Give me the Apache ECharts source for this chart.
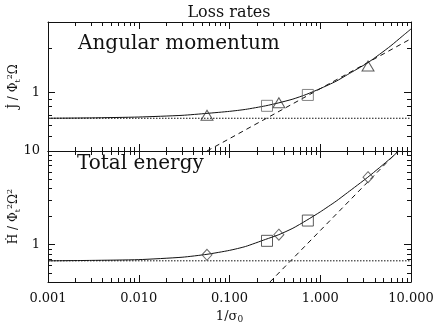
<!DOCTYPE html>
<html>
<head>
<meta charset="utf-8">
<script src="https://cdn.jsdelivr.net/npm/echarts@6/dist/echarts.min.js"></script>
<style>
    html, body { margin: 0; padding: 0; background: #fff; }
    #chart { width: 436px; height: 323px; }
</style>
</head>
<body>
<div id="chart"></div>
<script>
// angular momentum panel
var jCurveX = [0.001, 0.003, 0.01, 0.03, 0.0565, 0.1, 0.15, 0.25, 0.35, 0.5, 0.7, 1, 1.5, 2, 3.3, 4.5, 6, 8, 10];
var jCurveY = [0.667, 0.671, 0.68, 0.698, 0.72, 0.743, 0.766, 0.81, 0.849, 0.9, 0.967, 1.06, 1.19, 1.32, 1.58, 1.81, 2.07, 2.40, 2.69];
var jDashX = [0.0565, 10];
var jDashY = [0.4, 2.31];
var jFloor = 0.667;
var jTriX = [0.0565, 0.35, 3.36];
var jTriY = [0.70, 0.85, 1.51];
var jSqX = [0.259, 0.73];
var jSqY = [0.81, 0.96];

// total energy panel
var hCurveX = [0.001, 0.003, 0.01, 0.03, 0.0565, 0.1, 0.15, 0.25, 0.35, 0.5, 0.7, 1, 1.5, 2, 3.3, 4.5, 6, 7.4];
var hCurveY = [0.673, 0.68, 0.693, 0.735, 0.79, 0.87, 0.957, 1.14, 1.28, 1.5, 1.81, 2.24, 2.92, 3.6, 5.2, 6.65, 8.4, 10.1];
var hDashX = [0.279, 7.2];
var hDashY = [0.4, 10];
var hFloor = 0.673;
var hDiaX = [0.0565, 0.35, 3.36];
var hDiaY = [0.78, 1.28, 5.26];
var hSqX = [0.259, 0.73];
var hSqY = [1.10, 1.81];

var xRange = [0.001, 10];
var jRange = [0.4, 3];
var hRange = [0.4, 10];

function pairs(xs, ys) {
    var out = [];
    for (var i = 0; i < xs.length; i++) {
        out.push([xs[i], ys[i]]);
    }
    return out;
}

var FONT = "DejaVu Serif";
var INK = "#111";

function xAxisOf(grid, pos, labels) {
    return {
        type: "log", logBase: 10, gridIndex: grid, position: pos,
        min: xRange[0], max: xRange[1],
        axisLine: { show: true, onZero: false, lineStyle: { color: INK, width: 1 } },
        axisTick: { show: true, inside: true, length: 7, lineStyle: { color: INK } },
        minorTick: { show: true, splitNumber: 9, length: 4, lineStyle: { color: INK } },
        splitLine: { show: false },
        axisLabel: {
            show: labels, color: INK, fontFamily: FONT, fontSize: 13, margin: 10,
            showMinLabel: true, showMaxLabel: true,
            formatter: function (v) { return Number(v).toFixed(3); }
        }
    };
}

function yAxisOf(grid, pos, range, labels, name) {
    var ax = {
        type: "log", logBase: 10, gridIndex: grid, position: pos,
        min: range[0], max: range[1],
        axisLine: { show: true, onZero: false, lineStyle: { color: INK, width: 1 } },
        axisTick: { show: true, inside: true, length: 7, lineStyle: { color: INK } },
        minorTick: { show: true, splitNumber: 9, length: 4, lineStyle: { color: INK } },
        splitLine: { show: false },
        axisLabel: {
            show: labels, color: INK, fontFamily: FONT, fontSize: 13, margin: 8,
            showMinLabel: true, showMaxLabel: true,
            formatter: function (v) {
                var l = Math.log(v) / Math.LN10;
                if (Math.abs(l - Math.round(l)) < 1e-6) return String(Math.round(v));
                return "";
            }
        }
    };
    if (name) {
        ax.name = name;
        ax.nameLocation = "middle";
        ax.nameRotate = 90;
        ax.nameGap = 26;
        ax.nameMoveOverlap = false;
        ax.nameTextStyle = {
            color: INK, fontFamily: FONT, fontSize: 12, lineHeight: 16,
            rich: {
                sub: { fontFamily: FONT, fontSize: 8, color: INK, verticalAlign: "bottom", lineHeight: 16 },
                sup: { fontFamily: FONT, fontSize: 8, color: INK, verticalAlign: "top", lineHeight: 16 }
            }
        };
    }
    return ax;
}

function lineSeries(xi, yi, data, type, smooth) {
    return {
        type: "line", xAxisIndex: xi, yAxisIndex: yi, data: data,
        symbol: "none", smooth: smooth || false,
        silent: true, animation: false,
        lineStyle: { color: INK, width: 1, type: type }
    };
}

function markSeries(xi, yi, data, symbol, size, color) {
    return {
        type: "scatter", xAxisIndex: xi, yAxisIndex: yi, data: data,
        symbol: symbol, symbolSize: size, animation: false, z: 5,
        itemStyle: { color: "rgba(0,0,0,0)", borderColor: color, borderWidth: 1 }
    };
}

var chart = echarts.init(document.getElementById("chart"), null, { renderer: "canvas" });
chart.setOption({
    backgroundColor: "#fff",
    animation: false,
    title: [
        { text: "Loss rates", left: 224, top: 0, textAlign: "center",
          textStyle: { fontFamily: FONT, fontWeight: "normal", fontSize: 16, color: INK } },
        { text: "Angular momentum", left: 73, top: 29,
          textStyle: { fontFamily: FONT, fontWeight: "normal", fontSize: 20, color: INK } },
        { text: "Total energy", left: 72, top: 149,
          textStyle: { fontFamily: FONT, fontWeight: "normal", fontSize: 20, color: INK } }
    ],
    grid: [
        { left: 48, right: 25, top: 22, height: 129, outerBoundsMode: "none", containLabel: false },
        { left: 48, right: 25, top: 151, height: 131, outerBoundsMode: "none", containLabel: false }
    ],
    xAxis: [
        xAxisOf(0, "bottom", false),
        xAxisOf(0, "top", false),
        Object.assign(xAxisOf(1, "bottom", true), {
            name: "1/σ{sub|0}", nameLocation: "middle", nameGap: 27, nameMoveOverlap: false,
            nameTextStyle: {
                color: INK, fontFamily: FONT, fontSize: 13,
                rich: { sub: { fontFamily: FONT, fontSize: 9, color: INK, verticalAlign: "bottom", padding: [6, 0, 0, 0] } }
            }
        }),
        xAxisOf(1, "top", false)
    ],
    yAxis: [
        yAxisOf(0, "left", jRange, true, "J\u0307 / Φ{sub|t}{sup|2}Ω"),
        yAxisOf(0, "right", jRange, false),
        yAxisOf(1, "left", hRange, true, "Ḣ / Φ{sub|t}{sup|2}Ω{sup|2}"),
        yAxisOf(1, "right", hRange, false)
    ],
    series: [
        lineSeries(0, 0, pairs(jCurveX, jCurveY), "solid", 0.2),
        lineSeries(0, 0, pairs(jDashX, jDashY), [5, 4]),
        lineSeries(0, 0, pairs(xRange, [jFloor, jFloor]), [1.5, 1.5]),
        markSeries(0, 0, pairs(jTriX, jTriY), "triangle", [12, 10], "#333"),
        markSeries(0, 0, pairs(jSqX, jSqY), "rect", 11, "#666"),

        lineSeries(2, 2, pairs(hCurveX, hCurveY), "solid", 0.2),
        lineSeries(2, 2, pairs(hDashX, hDashY), [5, 4]),
        lineSeries(2, 2, pairs(xRange, [hFloor, hFloor]), [1.5, 1.5]),
        markSeries(2, 2, pairs(hDiaX, hDiaY), "diamond", [10, 11], "#444"),
        markSeries(2, 2, pairs(hSqX, hSqY), "rect", 11, "#333")
    ]
});
</script>
</body>
</html>
